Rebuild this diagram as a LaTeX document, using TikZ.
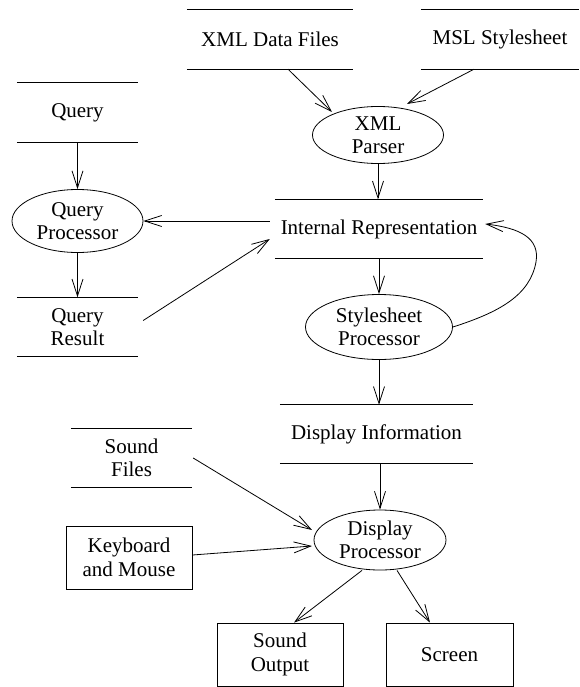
\documentclass[tikz,border=0pt]{standalone}
\usepackage{fontspec}
\setmainfont{Liberation Serif}
\usetikzlibrary{shapes.geometric,arrows.meta,calc}
\newcommand{\dfont}{\fontsize{21}{23.5}\selectfont}
\begin{document}
\begin{tikzpicture}[x=1pt,y=-1pt,
  every node/.style={font=\dfont},
  store/.style={inner sep=0pt, align=center},
  proc/.style={ellipse, draw, line width=0.8pt, inner sep=0pt},
  plainbox/.style={draw, rectangle, line width=0.8pt, inner sep=0pt, align=center},
  storeline/.style={line width=0.8pt},
  arr/.style={line width=0.8pt, -{Straight Barb[length=17pt,width=11pt,line width=0.8pt]}}]
\useasboundingbox (0,0) rectangle (579,687);

% data stores
\node[store, minimum width=166pt, minimum height=59pt] (xml) at (270,39.5) {XML Data Files};
\node[store, minimum width=158pt, minimum height=59pt] (msl) at (500,39.5) {MSL Stylesheet};
\node[store, minimum width=121pt, minimum height=59pt] (query) at (77.5,112.5) {Query};
\node[store, minimum width=121pt, minimum height=59pt] (qres) at (77.5,327) {Query\\Result};
\node[store, minimum width=208pt, minimum height=59pt] (ir) at (379,229) {Internal Representation};
\node[store, minimum width=193pt, minimum height=58pt] (di) at (376.5,434) {Display Information};
\node[store, minimum width=121pt, minimum height=58pt] (sf) at (131.5,458) {Sound\\Files};
\foreach \n in {xml,msl,query,qres,ir,di,sf}{
  \draw[storeline] (\n.north west) -- (\n.north east);
  \draw[storeline] (\n.south west) -- (\n.south east);
}

% processes
\node[proc, minimum width=131pt, minimum height=57pt,
  label={[align=center]center:{XML\\Parser}}] (parser) at (378,135) {};
\node[proc, minimum width=131pt, minimum height=63pt,
  label={[align=center]center:{Query\\Processor}}] (qp) at (77.5,221) {};
\node[proc, minimum width=147pt, minimum height=65pt,
  label={[align=center]center:{Stylesheet\\Processor}}] (sp) at (379,327) {};
\node[proc, minimum width=132pt, minimum height=60pt,
  label={[align=center]center:{Display\\Processor}}] (dp) at (380,540) {};

% boxes
\node[plainbox, minimum width=126pt, minimum height=63pt] (km) at (129,557.5) {Keyboard\\and Mouse};
\node[plainbox, minimum width=126pt, minimum height=63pt] (so) at (280,654.5) {Sound\\Output};
\node[plainbox, minimum width=127pt, minimum height=63pt] (sc) at (449.5,654.5) {Screen};

% connectors
\draw[arr] ([xshift=18pt]xml.south) -- ([shift={(-46,-23)}]parser.center);
\draw[arr] ([xshift=-26pt]msl.south) -- ([shift={(29,-31)}]parser.center);
\draw[arr] (parser.south) -- (parser.south |- ir.north);
\draw[arr] (query.south) -- (qp.north);
\draw[arr] (qp.south) -- (qres.north);
\coordinate (irL) at ([shift={(-5,-8)}]ir.west);
\draw[arr] (irL) -- (irL -| qp.east);
\draw[arr] ([shift={(5,-6.5)}]qres.east) -- ([shift={(-5,10)}]ir.west);
\draw[arr] (sp.north |- ir.south) -- (sp.north);
\draw[arr] (sp.south) -- (sp.south |- di.north);
\coordinate (loop) at (536,262);
\draw[arr] (sp.east) .. controls (500,312) and (530,295) .. (loop)
  .. controls (540,238) and (520,228) .. ([shift={(2,-5)}]ir.east);
\draw[arr] (dp.north |- di.south) -- (dp.north);
\draw[arr] ([shift={(1,0)}]sf.east) -- ([shift={(-68,-10)}]dp.center);
\draw[arr] ([shift={(0,-2.5)}]km.east) -- ([shift={(-68,6)}]dp.center);
\draw[arr] ([xshift=-18pt]dp.south) -- ([xshift=14pt]so.north);
\draw[arr] ([xshift=17pt]dp.south) -- ([xshift=-19.5pt]sc.north);
\end{tikzpicture}
\end{document}
